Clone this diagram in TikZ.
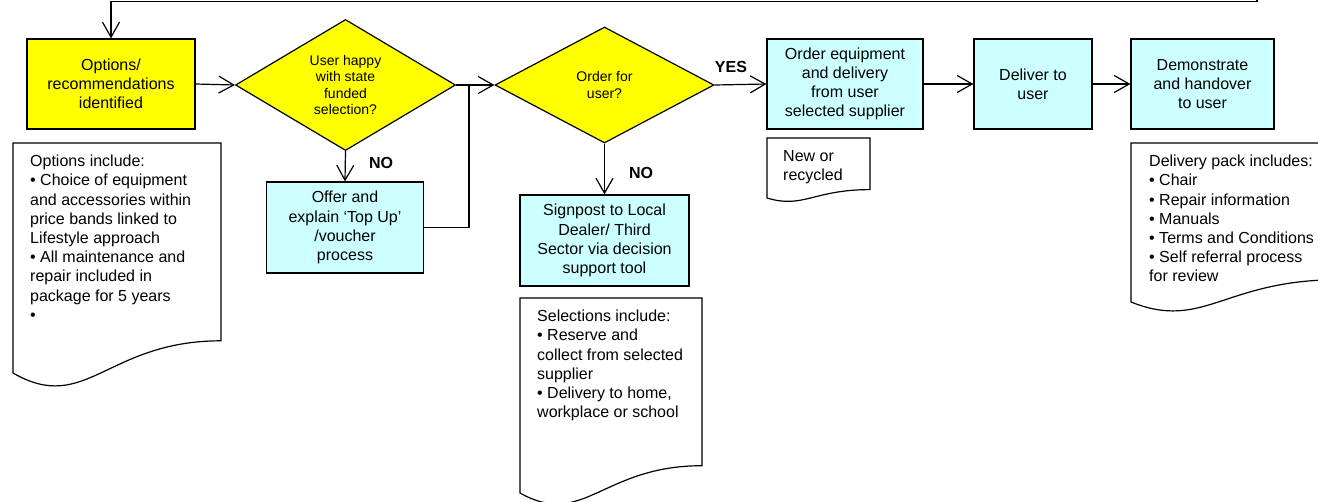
\documentclass[tikz,border=0pt]{standalone}
\usepackage{fontspec}
\setmainfont{Liberation Sans}
\usetikzlibrary{shapes.geometric,arrows.meta}

\definecolor{stepyellow}{HTML}{FFFF00}
\definecolor{stepcyan}{HTML}{CCFFFF}

\newcommand{\boxfont}{\fontsize{16}{19.2}\selectfont}
\newcommand{\askfont}{\fontsize{14}{16.4}\selectfont}
\newcommand{\tagfont}{\fontsize{16}{19}\selectfont\bfseries}

\tikzset{
  outline/.style={draw=black, line width=1.2pt},
  procbox/.style={outline, rectangle, inner sep=0pt, align=center, font=\boxfont},
  decision/.style={outline, diamond, fill=stepyellow, inner sep=0pt, align=center, font=\askfont},
  notetext/.style={anchor=north west, inner sep=0pt, align=left, font=\boxfont},
  flowtag/.style={inner sep=0pt, font=\tagfont},
  flow/.style={line width=1.2pt, -{Straight Barb[length=15pt,width=17pt]}},
  joinline/.style={line width=1.2pt},
}

% document outline: left x, right x, top y, bottom-left y (wavy bottom edge)
\newcommand{\docshape}[4]{%
  \pgfmathsetmacro{\dw}{#2-#1}%
  \pgfmathsetmacro{\dk}{0.14*(#4-#3)}%
  \pgfmathsetmacro{\dd}{0.183*(#4-#3)}%
  \draw[outline, fill=white] (#1,#4) -- (#1,#3) -- (#2,#3) -- (#2,#4-\dk)
    .. controls (#1+0.45*\dw,#4-\dk) and (#1+0.35*\dw,#4+\dd) .. (#1,#4) -- cycle;%
}

\begin{document}
\begin{tikzpicture}[x=1pt,y=-1pt]
\useasboundingbox (0,0) rectangle (1318,501);
\clip (0,0) rectangle (1318,501);

% process boxes
\node[procbox, fill=stepyellow, minimum width=168pt, minimum height=90pt] (opt) at (111,84)
  {Options/\\recommendations\\identified};
\node[procbox, fill=stepcyan, minimum width=157pt, minimum height=91pt] (offer) at (345,227.5)
  {Offer and\\explain ‘Top Up’\\/voucher\\process};
\node[procbox, fill=stepcyan, minimum width=169pt, minimum height=91pt] (signpost) at (604.5,240.5)
  {Signpost to Local\\Dealer/ Third\\Sector via decision\\support tool};
\node[procbox, fill=stepcyan, minimum width=156pt, minimum height=90pt] (order) at (845,84)
  {Order equipment\\and delivery\\from user\\selected supplier};
\node[procbox, fill=stepcyan, minimum width=118pt, minimum height=90pt] (deliver) at (1033,84)
  {Deliver to\\user};
\node[procbox, fill=stepcyan, minimum width=143pt, minimum height=90pt] (demo) at (1202.5,84)
  {Demonstrate\\and handover\\to user};

% decisions
\node[decision, minimum width=220pt, minimum height=116pt] (happy) at (345.5,85)
  {User happy\\with state\\funded\\selection?};
\node[decision, minimum width=219pt, minimum height=116pt] (orderq) at (604.5,85)
  {Order for\\user?};

% document notes
\docshape{13}{221}{143}{373}
\node[notetext] (optnote) at (30,155)
  {Options include:\\• Choice of equipment\\and accessories within\\price bands linked to\\Lifestyle approach\\• All maintenance and\\repair included in\\package for 5 years\\•};
\docshape{520}{702}{298}{493}
\node[notetext] (selnote) at (537,310)
  {Selections include:\\• Reserve and\\collect from selected\\supplier\\• Delivery to home,\\workplace or school};
\docshape{767}{870}{138}{198}
\node[notetext] (newnote) at (783,150)
  {New or\\recycled};
\docshape{1131}{1338}{143}{302}
\node[notetext] (packnote) at (1149,155)
  {Delivery pack includes:\\• Chair\\• Repair information\\• Manuals\\• Terms and Conditions\\• Self referral process\\for review};

% connectors
\coordinate (loopin) at (1257,-5);
\coordinate (looptop) at (1257,1.8);
\draw[flow] (loopin) -- (looptop) -| (opt.north);
\draw[flow] (opt.east) -- (happy.west);
\draw[flow] (happy.south) -- (offer.north);
\draw[flow] (happy.east) -- (orderq.west);
\coordinate (merge) at (469,85);
\draw[joinline] (offer.east) -| (merge);
\draw[flow] (orderq.east) -- (order.west);
\draw[flow] (orderq.south) -- (signpost.north);
\draw[flow] (order.east) -- (deliver.west);
\draw[flow] (deliver.east) -- (demo.west);

% branch labels
\node[flowtag] (no1) at (381,163) {NO};
\node[flowtag] (no2) at (641,173) {NO};
\node[flowtag] (yes) at (731,67) {YES};
\end{tikzpicture}
\end{document}
